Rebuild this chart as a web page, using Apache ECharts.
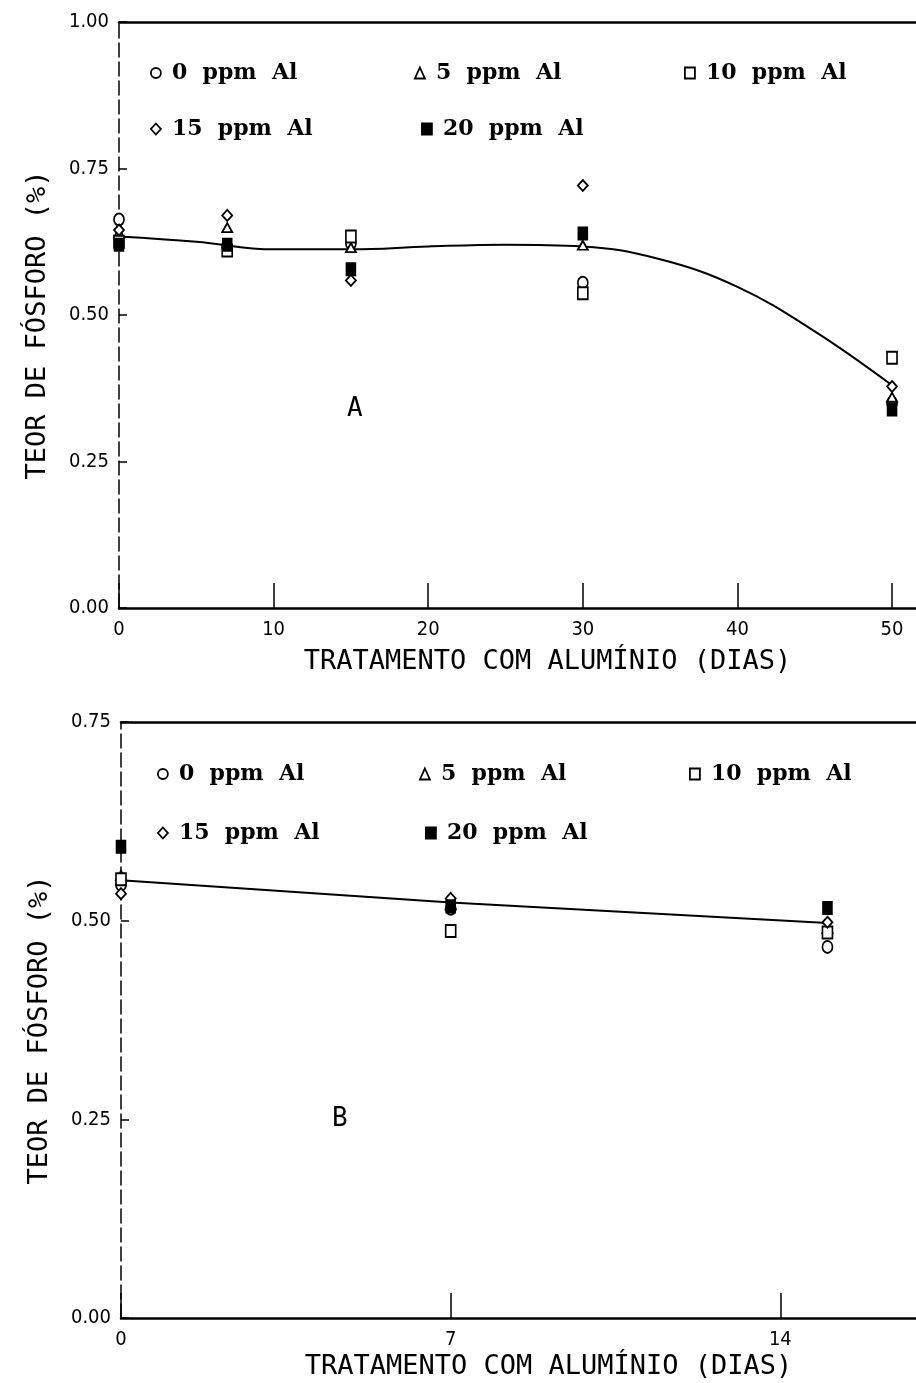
<!DOCTYPE html>
<html><head><meta charset="utf-8">
<script src="https://cdn.jsdelivr.net/npm/echarts@6/dist/echarts.min.js"></script>
<style>html,body{margin:0;padding:0;background:#fff}#c{width:916px;height:1383px}</style>
</head><body><div id="c"></div>
<script>
// ---- Data ----
const seriesNames = ['0 ppm Al', '5 ppm Al', '10 ppm Al', '15 ppm Al', '20 ppm Al'];

// Panel A
const daysA = [0, 7, 15, 30, 50];
const ppm0A  = [0.663, 0.615, 0.622, 0.555, 0.350];
const ppm5A  = [0.640, 0.649, 0.615, 0.619, 0.360];
const ppm10A = [0.625, 0.610, 0.634, 0.537, 0.427];
const ppm15A = [0.645, 0.670, 0.559, 0.721, 0.378];
const ppm20A = [0.620, 0.620, 0.578, 0.639, 0.339];
const fitDaysA = [0, 5, 10, 15, 20, 25, 30, 35, 40, 45, 50];
const fitA     = [0.634, 0.625, 0.612, 0.612, 0.617, 0.620, 0.617, 0.595, 0.548, 0.472, 0.380];
const xTicksA = [0, 10, 20, 30, 40, 50];

// Panel B
const daysB = [0, 7, 15];
const ppm0B  = [0.545, 0.515, 0.467];
const ppm5B  = [0.557, 0.520, 0.490];
const ppm10B = [0.552, 0.487, 0.485];
const ppm15B = [0.534, 0.528, 0.498];
const ppm20B = [0.593, 0.518, 0.516];
const fitDaysB = [0, 7, 15];
const fitB     = [0.551, 0.523, 0.497];
const xTicksB = [0, 7, 14];

const yTicksA = [0, 0.25, 0.5, 0.75, 1.0];
const yTicksB = [0, 0.25, 0.5, 0.75];

// ---- Styling ----
const tickFont = '"Liberation Sans Narrow", "DejaVu Sans Condensed", "DejaVu Sans", sans-serif';
const titleFont = '"DejaVu Sans Mono", monospace';
const legendFont = '"DejaVu Serif", serif';

const symbols = {
  '0 ppm Al':  {symbol: 'circle',   size: [10, 12], fill: '#fff'},
  '5 ppm Al':  {symbol: 'triangle', size: [10, 9],  fill: '#fff'},
  '10 ppm Al': {symbol: 'rect',     size: [10, 12], fill: '#fff'},
  '15 ppm Al': {symbol: 'diamond',  size: [10, 11], fill: '#fff'},
  '20 ppm Al': {symbol: 'rect',     size: [9, 12],  fill: '#000'}
};
const dataA = [ppm0A, ppm5A, ppm10A, ppm15A, ppm20A];
const dataB = [ppm0B, ppm5B, ppm10B, ppm15B, ppm20B];

function zip(xs, ys) { return xs.map((x, i) => [x, ys[i]]); }

const series = [];
series.push({
  type: 'line', name: 'ajuste A', xAxisIndex: 0, yAxisIndex: 0,
  data: zip(fitDaysA, fitA), smooth: 0.4, showSymbol: false,
  lineStyle: {color: '#000', width: 2}, silent: true, z: 1
});
series.push({
  type: 'line', name: 'ajuste B', xAxisIndex: 2, yAxisIndex: 1,
  data: zip(fitDaysB, fitB), smooth: false, showSymbol: false,
  lineStyle: {color: '#000', width: 2}, silent: true, z: 1
});
seriesNames.forEach((nm, k) => {
  const s = symbols[nm];
  const base = {
    type: 'scatter', name: nm, symbol: s.symbol, symbolSize: s.size,
    itemStyle: {color: s.fill, borderColor: '#000', borderWidth: 1.8, opacity: 1},
    z: 2 + k
  };
  series.push(Object.assign({}, base, {xAxisIndex: 0, yAxisIndex: 0, data: zip(daysA, dataA[k])}));
  series.push(Object.assign({}, base, {xAxisIndex: 2, yAxisIndex: 1, data: zip(daysB, dataB[k])}));
});

// one legend component per entry, placed like the reference
function legendItem(name, left, top) {
  return {
    data: [name], left: left, top: top, orient: 'horizontal', padding: 0,
    itemWidth: 10, itemHeight: 11, selectedMode: false,
    itemStyle: {borderColor: '#000', borderWidth: 1.8},
    formatter: n => n.replace(/ /g, '  '),
    textStyle: {fontFamily: legendFont, fontWeight: 'bold', fontSize: 22, color: '#000', padding: [0, 0, 0, 6]}
  };
}

const axisLineSolid = {show: true, onZero: false, lineStyle: {color: '#000', width: 2.5}};
const axisLineDashed = {show: true, onZero: false, lineStyle: {color: '#000', width: 1.5, type: [14, 5]}};
const labelStyle = {color: '#000', fontFamily: tickFont, fontSize: 20};
const nameStyle = {color: '#000', fontFamily: titleFont, fontSize: 27};

const option = {
  backgroundColor: '#fff',
  animation: false,
  grid: [
    {left: 119, top: 22, width: 797, height: 586},
    {left: 121, top: 722, width: 795, height: 596}
  ],
  legend: [
    legendItem('0 ppm Al', 150, 62),
    legendItem('5 ppm Al', 414, 62),
    legendItem('10 ppm Al', 684, 62),
    legendItem('15 ppm Al', 150, 118),
    legendItem('20 ppm Al', 421, 118),
    legendItem('0 ppm Al', 157, 763),
    legendItem('5 ppm Al', 419, 763),
    legendItem('10 ppm Al', 689, 763),
    legendItem('15 ppm Al', 157, 822),
    legendItem('20 ppm Al', 425, 822)
  ],
  xAxis: [
    {
      gridIndex: 0, type: 'value', min: 0, max: 51.55, position: 'bottom',
      axisLine: axisLineSolid,
      axisTick: {show: true, inside: true, length: 25, customValues: xTicksA, lineStyle: {color: '#000', width: 1.5}},
      axisLabel: Object.assign({customValues: xTicksA, margin: 12, formatter: v => String(v)}, labelStyle),
      splitLine: {show: false},
      name: 'TRATAMENTO COM ALUMÍNIO (DIAS)', nameLocation: 'middle', nameGap: 40,
      nameTextStyle: Object.assign({padding: [0, 0, 0, 60]}, nameStyle)
    },
    {
      gridIndex: 0, type: 'value', min: 0, max: 51.55, position: 'top',
      axisLine: axisLineSolid, axisTick: {show: false}, axisLabel: {show: false}, splitLine: {show: false}
    },
    {
      gridIndex: 1, type: 'value', min: 0, max: 16.88, position: 'bottom',
      axisLine: axisLineSolid,
      axisTick: {show: true, inside: true, length: 25, customValues: xTicksB, lineStyle: {color: '#000', width: 1.5}},
      axisLabel: Object.assign({customValues: xTicksB, margin: 12, formatter: v => String(v)}, labelStyle),
      splitLine: {show: false},
      name: 'TRATAMENTO COM ALUMÍNIO (DIAS)', nameLocation: 'middle', nameGap: 35,
      nameTextStyle: Object.assign({padding: [0, 0, 0, 60]}, nameStyle)
    },
    {
      gridIndex: 1, type: 'value', min: 0, max: 16.88, position: 'top',
      axisLine: axisLineSolid, axisTick: {show: false}, axisLabel: {show: false}, splitLine: {show: false}
    }
  ],
  yAxis: [
    {
      gridIndex: 0, type: 'value', min: 0, max: 1, interval: 0.25,
      axisLine: axisLineDashed,
      axisTick: {show: true, inside: true, length: 8, customValues: yTicksA, lineStyle: {color: '#000', width: 1.5}},
      axisLabel: Object.assign({customValues: yTicksA, margin: 10, formatter: v => v.toFixed(2)}, labelStyle),
      splitLine: {show: false},
      name: 'TEOR DE FÓSFORO (%)', nameLocation: 'middle', nameGap: 68, nameRotate: 90,
      nameTextStyle: Object.assign({padding: [0, 20, 0, 0]}, nameStyle)
    },
    {
      gridIndex: 1, type: 'value', min: 0, max: 0.75, interval: 0.25,
      axisLine: axisLineDashed,
      axisTick: {show: true, inside: true, length: 8, customValues: yTicksB, lineStyle: {color: '#000', width: 1.5}},
      axisLabel: Object.assign({customValues: yTicksB, margin: 10, formatter: v => v.toFixed(2)}, labelStyle),
      splitLine: {show: false},
      name: 'TEOR DE FÓSFORO (%)', nameLocation: 'middle', nameGap: 68, nameRotate: 90,
      nameTextStyle: Object.assign({padding: [0, 20, 0, 0]}, nameStyle)
    }
  ],
  graphic: [
    {type: 'text', left: 347, top: 396, style: {text: 'A', fontFamily: titleFont, fontSize: 26, fill: '#000'}},
    {type: 'text', left: 332, top: 1106, style: {text: 'B', fontFamily: titleFont, fontSize: 26, fill: '#000'}}
  ],
  series: series
};

const chart = echarts.init(document.getElementById('c'), null, {renderer: 'canvas'});
chart.setOption(option);
</script></body></html>
